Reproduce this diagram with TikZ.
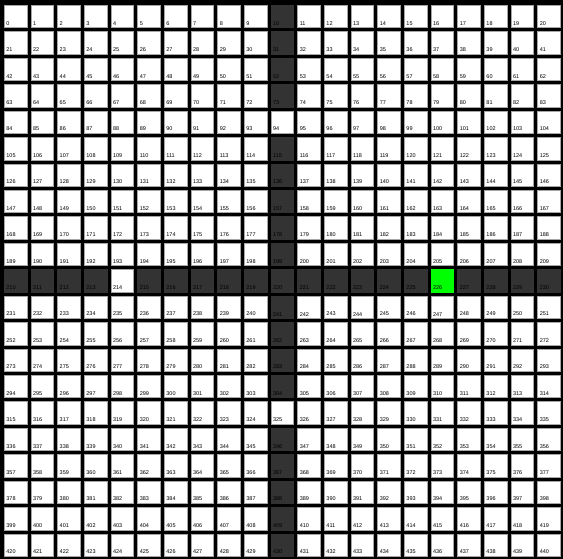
\documentclass[tikz,border=0pt]{standalone}
\usepackage{fontspec}
\setsansfont{Liberation Sans}
\usetikzlibrary{positioning}

\begin{document}
\begin{tikzpicture}[
        x=1pt, y=-1pt,
        cell/.style={rectangle, draw=gray!70, line width=0.5pt, fill=white,
            minimum width=22.7pt, minimum height=22.4pt, inner sep=0pt, anchor=north west},
        wallcell/.style={cell, fill=wallgray, draw=wallgray},
        goalcell/.style={cell, fill=goalgreen, draw=goalgreen},
        num/.style={anchor=south west, inner sep=0pt, font=\sffamily\fontsize{5.5}{6}\selectfont}
    ]
    \definecolor{wallgray}{RGB}{51,51,51}
    \definecolor{goalgreen}{RGB}{0,255,0}

    %% ---- Frame ----
    \useasboundingbox (0,0) rectangle (563,559);
    \fill[black] (0,0) rectangle (563,559);

    %% ---- Cells 0 .. 440 ----
    \foreach \j in {0,...,20} {
        \foreach \i in {0,...,20} {
            \pgfmathtruncatemacro{\n}{\j*21+\i}
            \def\kind{cell}
            \ifnum\i=10 \ifnum\j=4 \else\ifnum\j=15 \else\def\kind{wallcell}\fi\fi\fi
            \ifnum\j=10 \ifnum\i=4 \def\kind{cell}\else\ifnum\i=16 \def\kind{goalcell}\else\def\kind{wallcell}\fi\fi\fi
            \node[\kind] (c\n) at ({4+\i*26.67},{5+\j*26.43}) {};
            \node[num] (t\n) at ([xshift=2.2pt, yshift=2.4pt] c\n.south west) {\n};
        }
    }

\end{tikzpicture}
\end{document}
